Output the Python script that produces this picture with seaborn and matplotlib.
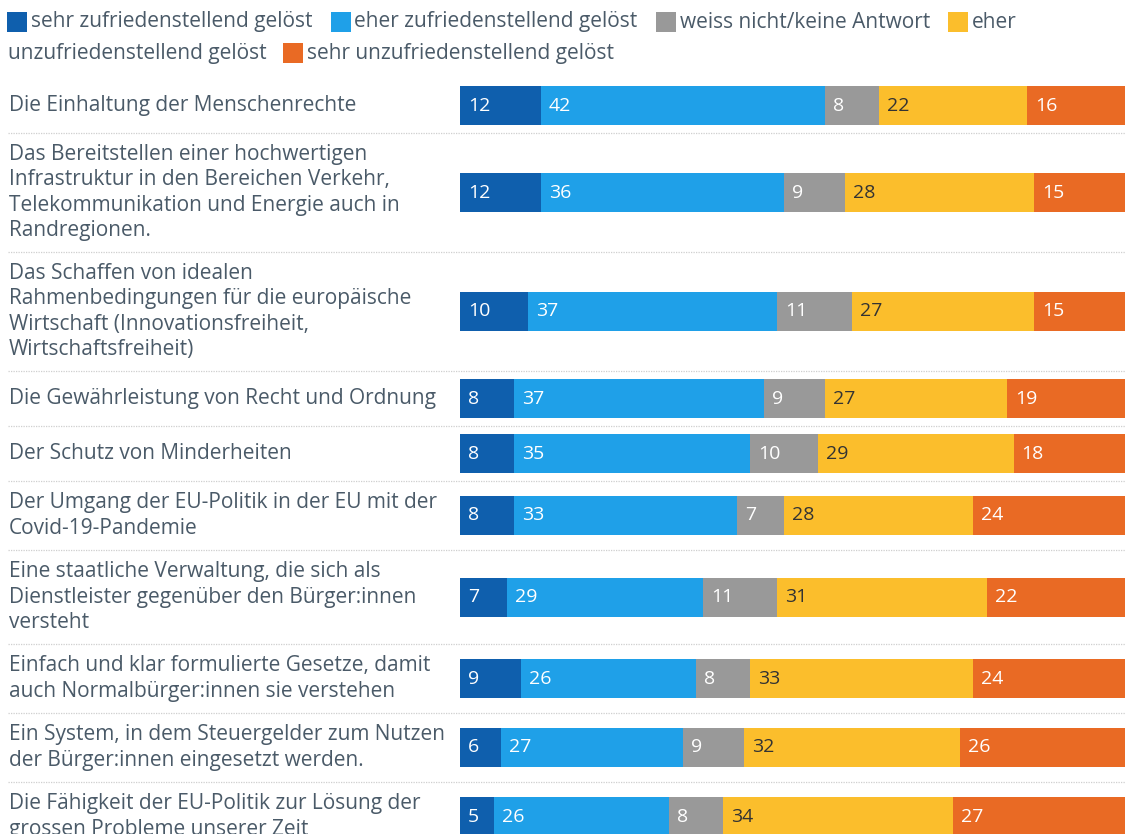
import numpy as np
import pandas as pd
import matplotlib.pyplot as plt
import matplotlib.transforms as mtransforms
from matplotlib.patches import Rectangle
import seaborn as sns

# Antwortkategorien (Legende) und Farben
categories = ['sehr zufriedenstellend gelöst', 'eher zufriedenstellend gelöst',
              'weiss nicht/keine Antwort', 'eher unzufriedenstellend gelöst',
              'sehr unzufriedenstellend gelöst']
colors = ['#0f5fad', '#1fa0e8', '#999999', '#fbbe2c', '#e96a24']

# Themen (Zeilen), schon umgebrochen wie im Original
items = [
    'Die Einhaltung der Menschenrechte',
    'Das Bereitstellen einer hochwertigen\nInfrastruktur in den Bereichen Verkehr,\n'
    'Telekommunikation und Energie auch in\nRandregionen.',
    'Das Schaffen von idealen\nRahmenbedingungen für die europäische\n'
    'Wirtschaft (Innovationsfreiheit,\nWirtschaftsfreiheit)',
    'Die Gewährleistung von Recht und Ordnung',
    'Der Schutz von Minderheiten',
    'Der Umgang der EU-Politik in der EU mit der\nCovid-19-Pandemie',
    'Eine staatliche Verwaltung, die sich als\nDienstleister gegenüber den Bürger:innen\nversteht',
    'Einfach und klar formulierte Gesetze, damit\nauch Normalbürger:innen sie verstehen',
    'Ein System, in dem Steuergelder zum Nutzen\nder Bürger:innen eingesetzt werden.',
    'Die Fähigkeit der EU-Politik zur Lösung der\ngrossen Probleme unserer Zeit',
]

# Anteile in %
sehr_zufrieden = [12, 12, 10, 8, 8, 8, 7, 9, 6, 5]
eher_zufrieden = [42, 36, 37, 37, 35, 33, 29, 26, 27, 26]
weiss_nicht = [8, 9, 11, 9, 10, 7, 11, 8, 9, 8]
eher_unzufrieden = [22, 28, 27, 27, 29, 28, 31, 33, 32, 34]
sehr_unzufrieden = [16, 15, 15, 19, 18, 24, 22, 24, 26, 27]

df = pd.DataFrame({
    categories[0]: sehr_zufrieden,
    categories[1]: eher_zufrieden,
    categories[2]: weiss_nicht,
    categories[3]: eher_unzufrieden,
    categories[4]: sehr_unzufrieden,
}, index=items)
cum = df.cumsum(axis=1)

sns.set_theme(style='white')
plt.rcParams['font.family'] = ['Open Sans', 'DejaVu Sans']
text_col = '#4a5a68'
fs = 15

W, H = 1125, 834
fig = plt.figure(figsize=(W / 100, H / 100), dpi=100)
renderer = fig.canvas.get_renderer()

# Zeilenhoehe haengt von der Anzahl Textzeilen ab (Pixel)
n_lines = np.array([s.count('\n') + 1 for s in items])
row_h = np.maximum(25 * n_lines + 19, 55)
bottoms = 78 + np.cumsum(row_h)
centers = bottoms - row_h / 2
bar_h = 39

# Balkenbereich: beginnt bei x=460px, 6.75px pro Prozent (rechts abgeschnitten)
ax = fig.add_axes([460 / W, 0, 675 / W, 1])

# gestapelt: kumulierte Summen von hinten nach vorne zeichnen
for k in reversed(range(len(categories))):
    sns.barplot(x=cum.iloc[:, k].values, y=centers, orient='y', native_scale=True,
                color=colors[k], saturation=1, errorbar=None, linewidth=0,
                width=bar_h / np.min(np.diff(centers)), ax=ax)

ax.set_xlim(0, 100)
ax.set_ylim(H, 0)
ax.axis('off')

# Werte in den Balken
for i in range(len(items)):
    for k, cat in enumerate(categories):
        val = df.iloc[i, k]
        left = cum.iloc[i, k] - val
        ax.text(left + 1.2, centers[i], str(val), ha='left', va='center',
                fontsize=14, color='#333333' if k == 3 else 'white')

trans = mtransforms.blended_transform_factory(fig.transFigure, ax.transData)

# Beschriftungen links und gepunktete Trennlinien
for i, label in enumerate(items):
    ax.text(9 / W, centers[i], label, transform=trans, ha='left', va='center',
            fontsize=fs, color=text_col, linespacing=1.26)
for b in bottoms[:-1]:
    ax.plot([8 / W, 1], [b, b], transform=trans, clip_on=False,
            color='#cfcfcf', lw=0.9, ls=(0, (1, 1)))


# Legende oben, fliessend wie im Original
def leg_square(x, y, c):
    fig.patches.append(Rectangle((x / W, 1 - (y + 10) / H), 20 / W, 20 / H,
                                 transform=fig.transFigure, color=c, lw=0))
    return x + 24


def leg_text(x, y, s):
    t = fig.text(x / W, 1 - y / H, s, ha='left', va='center', fontsize=fs, color=text_col)
    return x + t.get_window_extent(renderer).width


x, y = 7, 22
for k in range(3):
    x = leg_square(x, y, colors[k])
    x = leg_text(x, y, categories[k]) + 18
x = leg_square(x, y, colors[3])
leg_text(x, y, 'eher')
x, y = 8, 53
x = leg_text(x, y, 'unzufriedenstellend gelöst') + 16
x = leg_square(x, y, colors[4])
leg_text(x, y, categories[4])

fig.savefig('out.png', dpi=100)
